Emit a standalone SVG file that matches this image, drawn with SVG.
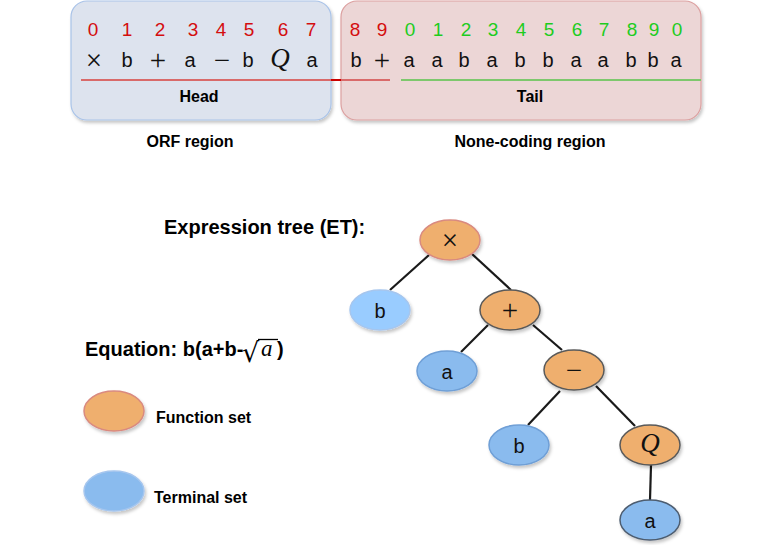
<svg xmlns="http://www.w3.org/2000/svg" width="761" height="545" viewBox="0 0 761 545">
<defs>
<filter id="sh" x="-20%" y="-20%" width="140%" height="150%">
<feDropShadow dx="1.5" dy="2.5" stdDeviation="1.5" flood-color="#000" flood-opacity="0.22"/>
</filter>
<style>
.t{font-family:"Liberation Sans",Arial,sans-serif;}
.lbl{font-family:"Liberation Sans",Arial,sans-serif;font-weight:bold;font-size:16px;fill:#000;text-anchor:middle;}
.big{font-family:"Liberation Sans",Arial,sans-serif;font-weight:bold;font-size:20px;fill:#000;}
.red{font-family:"Liberation Sans",Arial,sans-serif;font-size:19px;fill:#d40e0e;text-anchor:middle;}
.grn{font-family:"Liberation Sans",Arial,sans-serif;font-size:19px;fill:#1ecc1e;text-anchor:middle;}
.sym{font-family:"Liberation Sans",Arial,sans-serif;font-size:20px;fill:#111;text-anchor:middle;}
.op{font-family:"Liberation Serif","DejaVu Serif",serif;font-size:29px;fill:#111;text-anchor:middle;}
.q{font-family:"Liberation Serif","DejaVu Serif",serif;font-style:italic;font-size:27px;fill:#111;text-anchor:middle;}
.fn{fill:#efaf6e;stroke:#5a5a5a;stroke-width:1.5;filter:url(#sh);}
.fnr{fill:#efaf6e;stroke:#d98a80;stroke-width:1.5;filter:url(#sh);}
.tm{fill:#8abbee;stroke:#6f9fd6;stroke-width:1.5;filter:url(#sh);}
.tml{fill:#99ccff;stroke:#a6c6ee;stroke-width:1.5;filter:url(#sh);}
.tmd{fill:#8abbee;stroke:#4d5d70;stroke-width:1.5;filter:url(#sh);}
.edge{stroke:#1a1a1a;stroke-width:2.2;fill:none;}
</style>
</defs>
<rect width="761" height="545" fill="#fff"/>

<g id="head">
<rect x="71" y="1" width="260" height="119" rx="16" fill="#dde3ee" stroke="#a9c3e8" stroke-width="1.2" filter="url(#sh)"/>
</g>
<g id="tail">
<rect x="341" y="1" width="360" height="119" rx="16" fill="#ecd6d6" stroke="#dca0a0" stroke-width="1.2" filter="url(#sh)"/>
</g>

<g id="gene-lines">
<line x1="81" y1="80" x2="390" y2="80" stroke="#d96a6a" stroke-width="2"/>
<line x1="331" y1="80" x2="341" y2="80" stroke="#cc0000" stroke-width="2"/>
<line x1="401" y1="80" x2="701" y2="80" stroke="#7ec86d" stroke-width="2"/>
</g>

<g id="indices">
<text class="red" x="93" y="36">0</text>
<text class="red" x="127" y="36">1</text>
<text class="red" x="160" y="36">2</text>
<text class="red" x="193" y="36">3</text>
<text class="red" x="221" y="36">4</text>
<text class="red" x="249" y="36">5</text>
<text class="red" x="283" y="36">6</text>
<text class="red" x="311" y="36">7</text>
<text class="red" x="355" y="36">8</text>
<text class="red" x="382" y="36">9</text>
<text class="grn" x="410" y="36">0</text>
<text class="grn" x="438" y="36">1</text>
<text class="grn" x="466" y="36">2</text>
<text class="grn" x="493" y="36">3</text>
<text class="grn" x="521" y="36">4</text>
<text class="grn" x="549" y="36">5</text>
<text class="grn" x="577" y="36">6</text>
<text class="grn" x="604" y="36">7</text>
<text class="grn" x="632" y="36">8</text>
<text class="grn" x="654" y="36">9</text>
<text class="grn" x="677" y="36">0</text>
</g>

<g id="symbols">
<text class="op" x="94" y="70">×</text>
<text class="sym" x="127" y="67">b</text>
<text class="op" x="158" y="70">+</text>
<text class="sym" x="190" y="67">a</text>
<text class="op" x="222" y="70">−</text>
<text class="sym" x="248" y="67">b</text>
<text class="q" x="280" y="67">Q</text>
<text class="sym" x="312" y="67">a</text>
<text class="sym" x="356" y="67">b</text>
<text class="op" x="382" y="70">+</text>
<text class="sym" x="409" y="67">a</text>
<text class="sym" x="437" y="67">a</text>
<text class="sym" x="464" y="67">b</text>
<text class="sym" x="492" y="67">a</text>
<text class="sym" x="520" y="67">b</text>
<text class="sym" x="548" y="67">b</text>
<text class="sym" x="576" y="67">a</text>
<text class="sym" x="603" y="67">a</text>
<text class="sym" x="631" y="67">b</text>
<text class="sym" x="653" y="67">b</text>
<text class="sym" x="676" y="67">a</text>
</g>

<g id="labels">
<text class="lbl" x="199" y="102">Head</text>
<text class="lbl" x="530" y="102">Tail</text>
<text class="lbl" x="190" y="147">ORF region</text>
<text class="lbl" x="530" y="147">None-coding region</text>
<text class="big" x="164" y="234">Expression tree (ET):</text>
</g>

<g id="equation">
<text class="big" x="85" y="356">Equation: b(a+b-</text>
<text x="242" y="362" font-family="DejaVu Sans,sans-serif" font-size="27" fill="#000">√</text>
<line x1="258" y1="339.5" x2="278" y2="339.5" stroke="#000" stroke-width="1.3"/>
<text x="261" y="356" font-family="Liberation Serif,serif" font-style="italic" font-size="23" fill="#000">a</text>
<text class="big" x="277" y="356">)</text>
</g>

<g id="connectors">
<line class="edge" x1="429" y1="255" x2="390" y2="290"/>
<line class="edge" x1="472" y1="254" x2="511" y2="290"/>
<line class="edge" x1="488" y1="325" x2="461" y2="352"/>
<line class="edge" x1="533" y1="325" x2="562" y2="350"/>
<line class="edge" x1="560" y1="391" x2="528" y2="425"/>
<line class="edge" x1="596" y1="386" x2="635" y2="426"/>
<line class="edge" x1="651" y1="465" x2="650" y2="500"/>
</g>

<g id="node-times">
<ellipse class="fnr" cx="450" cy="240" rx="30" ry="20"/>
<text class="op" x="450" y="250">×</text>
</g>
<g id="node-b1">
<ellipse class="tml" cx="380" cy="310" rx="30" ry="20"/>
<text class="sym" x="380" y="318">b</text>
</g>
<g id="node-plus">
<ellipse class="fn" cx="510" cy="310" rx="30" ry="20"/>
<text class="op" x="510" y="320">+</text>
</g>
<g id="node-a1">
<ellipse class="tm" cx="447" cy="371" rx="30" ry="20"/>
<text class="sym" x="447" y="379">a</text>
</g>
<g id="node-minus">
<ellipse class="fn" cx="574" cy="370" rx="30" ry="20"/>
<text class="op" x="574" y="380">−</text>
</g>
<g id="node-b2">
<ellipse class="tm" cx="519" cy="445" rx="30" ry="20"/>
<text class="sym" x="519" y="453">b</text>
</g>
<g id="node-q">
<ellipse class="fn" cx="650" cy="445" rx="30" ry="20"/>
<text class="q" x="650" y="452">Q</text>
</g>
<g id="node-a2">
<ellipse class="tmd" cx="650" cy="520" rx="30" ry="20"/>
<text class="sym" x="650" y="528">a</text>
</g>

<g id="legend-function">
<ellipse class="fnr" cx="114" cy="411" rx="30" ry="20"/>
<text class="t" x="156" y="423" font-size="16" font-weight="bold">Function set</text>
</g>
<g id="legend-terminal">
<ellipse class="tm" cx="114" cy="491" rx="30" ry="20" style="stroke:#a6c6ee"/>
<text class="t" x="154" y="503" font-size="16" font-weight="bold">Terminal set</text>
</g>
</svg>
